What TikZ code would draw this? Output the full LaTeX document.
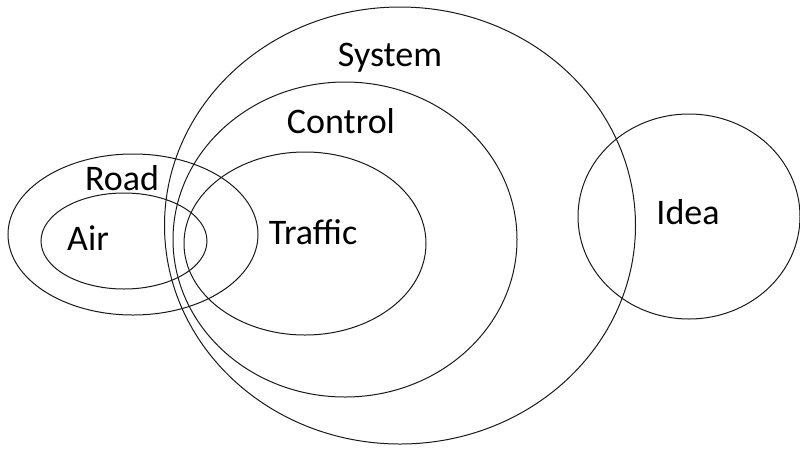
\documentclass[tikz,border=0pt]{standalone}
\usepackage{fontspec}
\setmainfont{Carlito}
\usetikzlibrary{shapes.geometric}
\begin{document}
\begin{tikzpicture}[x=1pt,y=-1pt,
  set/.style={draw=black!90, line width=1pt, ellipse, inner sep=0pt},
  lbl/.style={anchor=base, inner sep=0pt, font=\fontsize{36}{43}\selectfont}]
\useasboundingbox (0,0) rectangle (800,448);
\node[set, minimum width=471pt, minimum height=437pt] (system) at (400,225.5) {};
\node[set, minimum width=344pt, minimum height=315pt] (control) at (345,239.5) {};
\node[set, minimum width=242pt, minimum height=183pt] (traffic) at (305,243.5) {};
\node[set, minimum width=250pt, minimum height=161pt] (road) at (133,234.5) {};
\node[set, minimum width=166pt, minimum height=96pt] (air) at (124,241) {};
\node[set, minimum width=222pt, minimum height=205pt] (idea) at (689,216.5) {};
\node[lbl] (tsystem) at (390,66) {System};
\node[lbl] (tcontrol) at (341,133) {Control};
\node[lbl] (troad) at (122,190) {Road};
\node[lbl] (tair) at (88,250) {Air};
\node[lbl] (ttraffic) at (313,244) {Traffic};
\node[lbl] (tidea) at (688,224) {Idea};
\end{tikzpicture}
\end{document}
